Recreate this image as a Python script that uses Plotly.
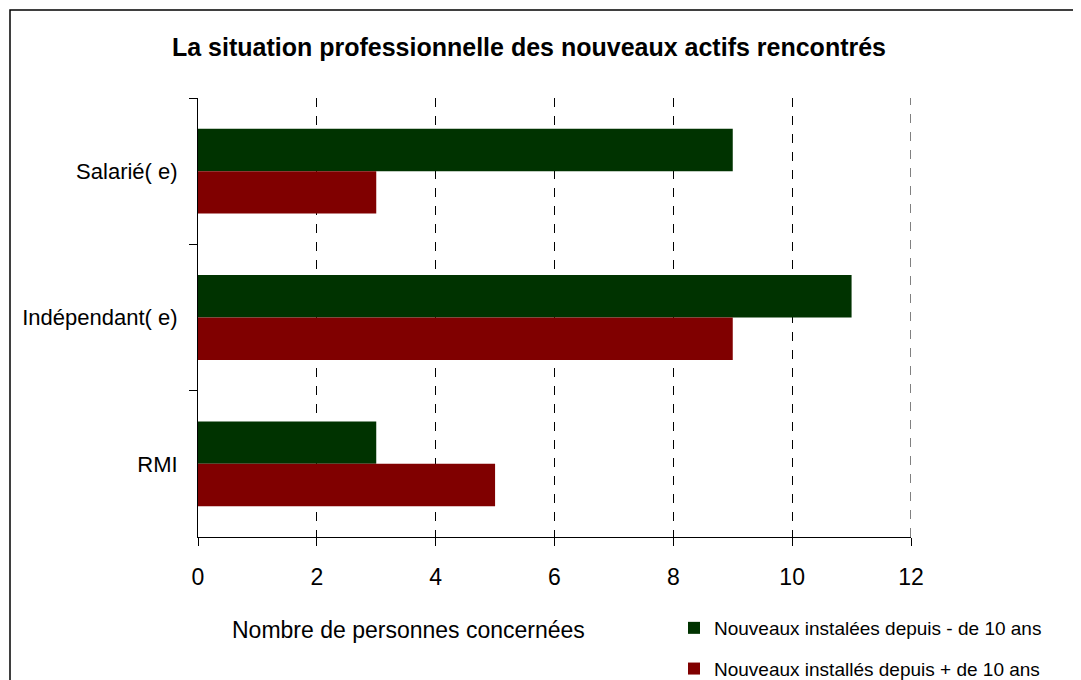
import plotly.graph_objects as go

categories = ["Salarié( e)", "Indépendant( e)", "RMI"]
series_recent = [9, 11, 3]   # Nouveaux instalées depuis - de 10 ans
series_old = [3, 9, 5]       # Nouveaux installés depuis + de 10 ans
name_recent = "Nouveaux instalées depuis - de 10 ans"
name_old = "Nouveaux installés depuis + de 10 ans"
x_ticks = [0, 2, 4, 6, 8, 10, 12]
title = "La situation professionnelle des nouveaux actifs rencontrés"
x_title = "Nombre de personnes concernées"

OFF = 8  # page body margin
W, H = 1081 - OFF, 680 - OFF
L, T = 198 - OFF, 98 - OFF
R = W - (911 - OFF)
B = H - (537 - OFF)
pw, ph = W - L - R, H - T - B

def px_x(p):
    return (p - OFF - L) / pw

def px_y(p):
    return (H - B - (p - OFF)) / ph

font_main = "Liberation Sans, Arial, sans-serif"

fig = go.Figure()
fig.add_trace(go.Bar(y=categories, x=series_recent, orientation="h", name=name_recent,
                     marker=dict(color="#003300", line=dict(width=0)), legendgroup="a"))
fig.add_trace(go.Bar(y=categories, x=series_old, orientation="h", name=name_old,
                     marker=dict(color="#800000", line=dict(width=0)), legendgroup="b"))

fig.update_layout(
    width=W, height=H,
    margin=dict(l=L, r=R, t=T, b=B, autoexpand=False),
    paper_bgcolor="white", plot_bgcolor="white",
    barmode="group", bargap=0.42, bargroupgap=0,
    font=dict(family=font_main, color="black"),
    title=dict(text="<b>" + title + "</b>", x=px_x(529), xref="paper", xanchor="center",
               y=1 - (47 - OFF) / H, yanchor="middle", font=dict(size=25, family=font_main)),
    showlegend=True,
    legend=dict(x=px_x(674), y=px_y(609), xanchor="left", yanchor="top",
                traceorder="grouped", tracegroupgap=13,
                font=dict(size=19, family=font_main), bgcolor="rgba(0,0,0,0)"),
    xaxis=dict(range=[0, 12], tickvals=x_ticks, ticktext=[str(v) for v in x_ticks],
               showgrid=True, gridcolor="black", griddash="dash", gridwidth=1,
               zeroline=False, showline=True, linecolor="black", linewidth=1,
               ticks="outside", ticklen=8, tickcolor="black",
               tickfont=dict(size=23, family=font_main),
               ticklabelstandoff=11),
    yaxis=dict(categoryorder="array", categoryarray=categories, autorange="reversed",
               showline=True, linecolor="black", linewidth=1, showgrid=False,
               ticks="outside", ticklen=8, tickcolor="black", tickson="boundaries",
               tickfont=dict(size=22, family=font_main), ticklabelstandoff=15),
    shapes=[
        dict(type="rect", xref="paper", yref="paper", x0=px_x(10), x1=px_x(1095),
             y0=px_y(700), y1=px_y(10), line=dict(color="black", width=1.5),
             fillcolor="rgba(0,0,0,0)", layer="below"),
        # last gridline at the right edge of the axis range
        dict(type="line", xref="x", yref="paper", x0=x_ticks[-1], x1=x_ticks[-1],
             y0=0, y1=1, line=dict(color="black", width=1, dash="dash"), layer="below"),
    ],
    annotations=[
        dict(text=x_title, xref="paper", yref="paper", x=px_x(408), y=px_y(630),
             xanchor="center", yanchor="middle", showarrow=False,
             font=dict(size=23, family=font_main)),
    ],
)

fig.write_html("out.html")
